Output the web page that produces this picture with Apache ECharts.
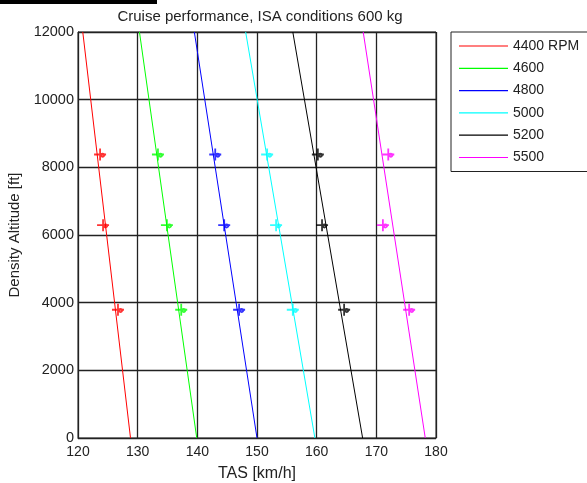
<!DOCTYPE html>
<html>
<head>
<meta charset="utf-8">
<script src="https://cdn.jsdelivr.net/npm/echarts@6/dist/echarts.min.js"></script>
<style>html,body{margin:0;padding:0;background:#fff}#c{width:587px;height:483px}</style>
</head>
<body>
<div id="c"></div>
<script>
const seriesNames = ['4400 RPM', '4600', '4800', '5000', '5200', '5500'];
const seriesColors = ['#ff0000', '#00ff00', '#0000ff', '#00ffff', '#000000', '#ff00ff'];
// TAS at altitude 0 ft and 12000 ft (line end points)
const lineAltitudes = [0, 12000];
const lineTAS = [
  [128.8, 120.8],
  [139.9, 130.3],
  [150.0, 139.5],
  [159.7, 148.1],
  [167.7, 156.0],
  [178.2, 167.8]
];
// measured points (plus markers)
const markerAltitudes = [8380, 6290, 3790];
const markerTAS = [
  [123.7, 124.2, 126.7],
  [133.4, 134.9, 137.3],
  [143.0, 144.5, 147.0],
  [151.7, 153.2, 156.0],
  [160.2, 160.9, 164.6],
  [172.0, 171.1, 175.5]
];
const xTicks = [120, 130, 140, 150, 160, 170, 180];
const yTicks = [0, 2000, 4000, 6000, 8000, 10000, 12000];

const font = 'Liberation Sans, Arial, sans-serif';
const markerPath = 'path://M0,10 L20,10 M10,0 L10,20 M10,10 C16,7 19,10 16,13 C14,15 11,13 12,10';

const series = [];
seriesNames.forEach((n, i) => {
  series.push({
    name: n, type: 'line', symbol: 'none',
    data: lineAltitudes.map((a, k) => [lineTAS[i][k], a]),
    lineStyle: { color: seriesColors[i], width: 1 },
    itemStyle: { color: seriesColors[i] },
    animation: false, z: 3
  });
  series.push({
    name: n + '_pts', type: 'scatter',
    data: markerAltitudes.map((a, k) => [markerTAS[i][k], a]),
    symbol: markerPath, symbolSize: 12,
    itemStyle: { color: 'rgba(0,0,0,0)', borderColor: seriesColors[i], borderWidth: 1.8 },
    animation: false, z: 4
  });
});

const chart = echarts.init(document.getElementById('c'));
chart.setOption({
  backgroundColor: '#fff',
  animation: false,
  title: {
    text: 'Cruise performance, ISA conditions 600 kg',
    left: 255, top: 4, textAlign: 'center',
    textStyle: { fontFamily: font, fontSize: 15, fontWeight: 'normal', color: '#222' }
  },
  graphic: [{ type: 'rect', shape: { x: 0, y: 0, width: 157, height: 4 }, style: { fill: '#000' } }],
  legend: {
    data: seriesNames.map((n, i) => ({ name: n, icon: 'rect', itemStyle: { color: seriesColors[i] } })),
    orient: 'vertical', left: 451, top: 32,
    itemWidth: 49, itemHeight: 1.2, itemGap: 6.3,
    padding: [6, 40, 6, 8],
    borderColor: '#222', borderWidth: 1,
    textStyle: { fontFamily: font, fontSize: 14, color: '#222', lineHeight: 16 }
  },
  grid: { left: 78, right: 151, top: 32, bottom: 45, show: true, borderColor: '#222', borderWidth: 1, containLabel: false, outerBoundsMode: 'none' },
  xAxis: {
    type: 'value', min: 120, max: 180, interval: 10,
    name: 'TAS [km/h]', nameLocation: 'middle', nameGap: 28,
    nameTextStyle: { fontFamily: font, fontSize: 16, color: '#222' },
    axisLine: { lineStyle: { color: '#222' } },
    axisTick: { inside: true, length: 4, lineStyle: { color: '#222' } },
    axisLabel: { fontFamily: font, fontSize: 14, color: '#222', margin: 7 },
    splitLine: { show: true, lineStyle: { color: '#222', width: 1.3 } }
  },
  yAxis: {
    type: 'value', min: 0, max: 12000, interval: 2000,
    name: 'Density Altitude [ft]', nameLocation: 'middle', nameGap: 56,
    nameTextStyle: { fontFamily: font, fontSize: 15, color: '#222' },
    axisLine: { show: true, lineStyle: { color: '#222' } },
    axisTick: { show: true, inside: true, length: 4, lineStyle: { color: '#222' } },
    axisLabel: { fontFamily: font, fontSize: 14.5, color: '#222', margin: 4, formatter: v => String(v) },
    splitLine: { show: true, lineStyle: { color: '#222', width: 1.3 } }
  },
  series: series
});
</script>
</body>
</html>
